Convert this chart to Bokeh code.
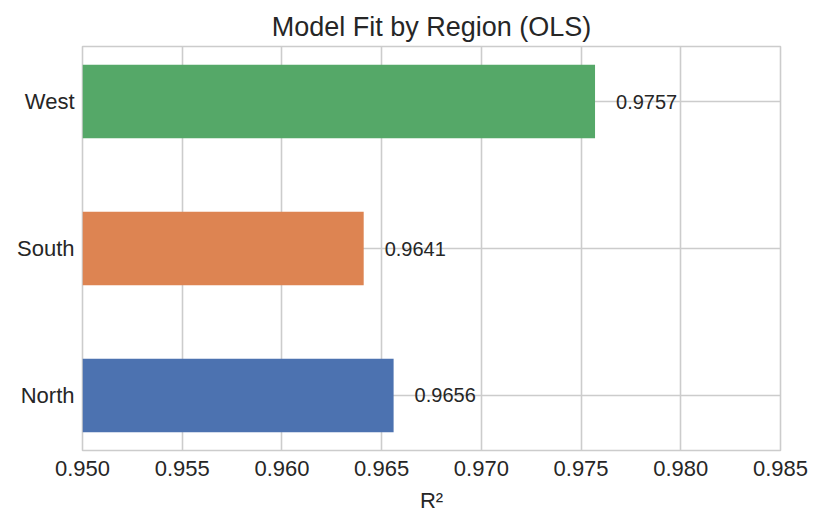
from bokeh.plotting import figure
from bokeh.models import ColumnDataSource, FixedTicker, PrintfTickFormatter
from bokeh.embed import file_html
from bokeh.resources import INLINE
from bokeh.core.properties import value

# data
regions = ["North", "South", "West"]
r2 = [0.9656, 0.9641, 0.9757]
colors = ["#4C72B0", "#DD8452", "#55A868"]
x_ticks = [0.950, 0.955, 0.960, 0.965, 0.970, 0.975, 0.980, 0.985]

FONT = "Liberation Sans"
INK = "#262626"
GRID = "#cccccc"

src = ColumnDataSource(dict(
    y=list(range(len(regions))),
    r2=r2,
    color=colors,
    label=["%.4f" % v for v in r2],
))

p = figure(width=823, height=528, output_backend="svg", toolbar_location=None, tools="",
           x_range=(0.950, 0.985), y_range=(-0.375, len(regions) - 1 + 0.375),
           min_border_left=82, min_border_right=43, min_border_top=46, min_border_bottom=78)

p.title.text = "Model Fit by Region (OLS)"
p.title.align = "center"
p.title.text_font = FONT
p.title.text_font_size = "27px"
p.title.text_font_style = "normal"
p.title.text_color = INK

p.hbar(y="y", left=0.950, right="r2", height=0.5, fill_color="color", line_color=None, source=src)
p.text(x="r2", y="y", text="label", x_offset=21, text_font=value(FONT), text_font_size="20px",
       text_color=INK, text_baseline="middle", text_align="left", source=src)

# axes
p.xaxis.ticker = FixedTicker(ticks=x_ticks)
p.xaxis.formatter = PrintfTickFormatter(format="%.3f")
p.xaxis.axis_label = "R²"
p.yaxis.ticker = FixedTicker(ticks=list(range(len(regions))))
p.yaxis.major_label_overrides = {i: r for i, r in enumerate(regions)}

for ax in (p.xaxis, p.yaxis):
    ax.axis_line_color = None
    ax.major_tick_line_color = None
    ax.minor_tick_line_color = None
    ax.major_tick_out = 0
    ax.major_tick_in = 0
    ax.major_label_text_font = FONT
    ax.major_label_text_font_size = "22px"
    ax.major_label_text_color = INK
    ax.axis_label_text_font = FONT
    ax.axis_label_text_font_size = "22px"
    ax.axis_label_text_font_style = "normal"
    ax.axis_label_text_color = INK
p.xaxis.major_label_standoff = 10
p.yaxis.major_label_standoff = 8
p.xaxis.axis_label_standoff = 9

p.grid.grid_line_color = GRID
p.grid.grid_line_width = 1.6
p.outline_line_color = GRID
p.outline_line_width = 1.6
p.background_fill_color = "white"
p.border_fill_color = "white"

open("out.html", "w").write(file_html(p, INLINE))
